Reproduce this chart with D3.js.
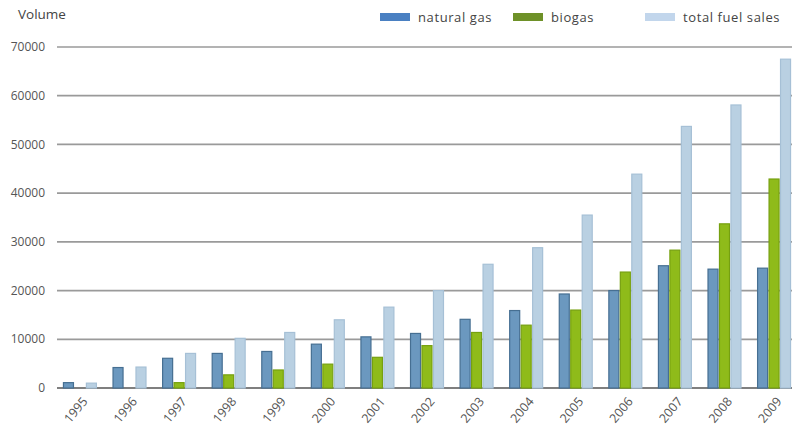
<!DOCTYPE html>
<html>
<head>
<meta charset="utf-8">
<script src="https://cdn.jsdelivr.net/npm/d3@7"></script>
<style>
  body { margin: 0; background: #fff; }
  text { font-family: "Open Sans", "DejaVu Sans", sans-serif; fill: #555; }
</style>
</head>
<body>
<div id="chart"></div>
<script>
// data
const years = ['1995', '1996', '1997', '1998', '1999', '2000', '2001', '2002', '2003', '2004', '2005', '2006', '2007', '2008', '2009']
const naturalGas = [1100, 4200, 6100, 7100, 7500, 9000, 10500, 11200, 14100, 15900, 19300, 20000, 25100, 24400, 24600]
const biogas = [0, 0, 1100, 2700, 3700, 4900, 6300, 8700, 11400, 12900, 16000, 23800, 28300, 33700, 42900]
const totalFuel = [1000, 4300, 7100, 10200, 11400, 14000, 16600, 20000, 25400, 28800, 35500, 43900, 53700, 58100, 67500]
const yTicks = [0, 10000, 20000, 30000, 40000, 50000, 60000, 70000]

const seriesKeys = ['gas', 'bio', 'total']
const seriesNames = ['natural gas', 'biogas', 'total fuel sales']
const barFill = { gas: '#6b98bf', bio: '#8fbb1a', total: '#b9d0e2' }
const barEdge = { gas: '#466f92', bio: '#76a010', total: '#a6c0d6' }
const legendFill = { gas: '#4a80c2', bio: '#6e9128', total: '#c2d6ec' }

const width = 792, height = 432
const margin = { top: 47, left: 57, bottom: 44 }

const rows = years.map((y, i) => ({ year: y, gas: naturalGas[i], bio: biogas[i], total: totalFuel[i] }))

const svg = d3.select('#chart')
    .append('svg')
    .attr('width', width)
    .attr('height', height)

const y = d3.scaleLinear()
    .domain([0, 70000])
    .range([height - margin.bottom, margin.top])

const x = d3.scaleBand()
    .domain(years)
    .range([margin.left, 797])
    .paddingInner(0.315)
    .paddingOuter(0.12)

const xInner = d3.scaleBand()
    .domain(seriesKeys)
    .range([0, x.bandwidth()])
    .paddingInner(0.04)

// gridlines
svg.append('g')
    .selectAll('line')
    .data(yTicks)
    .join('line')
    .attr('x1', margin.left)
    .attr('x2', width)
    .attr('y1', d => y(d))
    .attr('y2', d => y(d))
    .attr('stroke', d => d === 0 ? '#555' : '#9a9a9a')
    .attr('stroke-width', 1.7)

// y tick labels
svg.append('g')
    .selectAll('text')
    .data(yTicks)
    .join('text')
    .attr('x', 45)
    .attr('y', d => y(d))
    .attr('dy', '0.35em')
    .attr('text-anchor', 'end')
    .style('font-size', '12px')
    .text(d => d)

// bars
const groups = svg.append('g')
    .selectAll('g')
    .data(rows)
    .join('g')
    .attr('transform', d => 'translate(' + x(d.year) + ',0)')

groups.selectAll('rect')
    .data(d => seriesKeys.map(k => ({ key: k, value: d[k] })).filter(d => d.value > 0))
    .join('rect')
    .attr('x', d => xInner(d.key) + 0.5)
    .attr('y', d => y(d.value))
    .attr('width', xInner.bandwidth() - 1)
    .attr('height', d => y(0) - y(d.value))
    .attr('fill', d => barFill[d.key])
    .attr('stroke', d => barEdge[d.key])
    .attr('stroke-width', 1.2)

// x tick labels
svg.append('g')
    .selectAll('text')
    .data(years)
    .join('text')
    .attr('transform', d => 'translate(' + (x(d) + x.bandwidth() / 2 + 5) + ',' + 399 + ') rotate(-50)')
    .attr('text-anchor', 'end')
    .attr('dy', '0.35em')
    .style('font-size', '12.5px')
    .text(d => d)

// axis title
svg.append('text')
    .attr('x', 18)
    .attr('y', 19)
    .style('font-size', '13.5px')
    .style('fill', '#444')
    .text('Volume')

// legend
const legendX = [380, 513, 645]
const legend = svg.append('g')
    .selectAll('g')
    .data(seriesKeys)
    .join('g')
    .attr('transform', (d, i) => 'translate(' + legendX[i] + ',13)')
legend.append('rect')
    .attr('width', 30)
    .attr('height', 8)
    .attr('fill', d => legendFill[d])
legend.append('text')
    .attr('x', 38)
    .attr('y', 4)
    .attr('dy', '0.35em')
    .style('font-size', '13px')
    .style('letter-spacing', '0.6px')
    .style('fill', '#444')
    .text((d, i) => seriesNames[i])
</script>
</body>
</html>
